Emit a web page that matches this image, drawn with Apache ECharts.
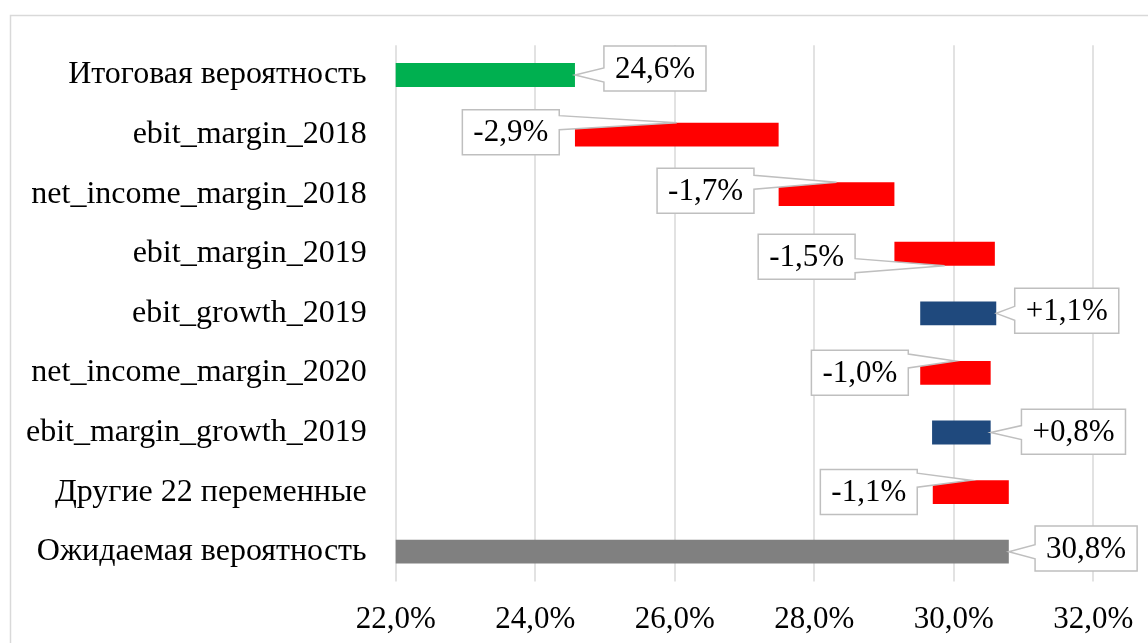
<!DOCTYPE html>
<html>
<head>
<meta charset="utf-8">
<script src="https://cdn.jsdelivr.net/npm/echarts@6/dist/echarts.min.js"></script>
<style>
  html, body { margin: 0; padding: 0; background: #fff; }
  #main { width: 1148px; height: 643px; }
</style>
</head>
<body>
<div id="main"></div>
<script>
// данные waterfall-диаграммы (сверху вниз)
const categories = [
  'Итоговая вероятность',
  'ebit_margin_2018',
  'net_income_margin_2018',
  'ebit_margin_2019',
  'ebit_growth_2019',
  'net_income_margin_2020',
  'ebit_margin_growth_2019',
  'Другие 22 переменные',
  'Ожидаемая вероятность'
];
const lows    = [22.0, 24.57, 27.49, 29.15, 29.52, 29.52, 29.69, 29.70, 22.0];
const highs   = [24.57, 27.49, 29.15, 30.59, 30.61, 30.53, 30.53, 30.79, 30.79];
const changes = [24.6, -2.9, -1.7, -1.5, 1.1, -1.0, 0.8, -1.1, 30.8];
const kinds   = ['total', 'neg', 'neg', 'neg', 'pos', 'neg', 'pos', 'neg', 'total'];
const xMin = 22, xMax = 32, xStep = 2;

const barColors = ['#00b050', '#ff0000', '#ff0000', '#ff0000', '#1f497d', '#ff0000', '#1f497d', '#ff0000', '#808080'];
// куда прикреплена выноска и смещение центра рамки от точки привязки
const calloutLayout = [
  ['end', 80, -6.5],
  ['top', -166, 9.5],
  ['top', -131, 8.5],
  ['bottom', -138, -9],
  ['end', 70.5, -2.5],
  ['top', -95.6, 11.8],
  ['end', 82.8, -0.8],
  ['top', -102, 11.8],
  ['end', 77.3, -3.2]
];

const FONT = '"Liberation Serif", "Times New Roman", serif';
const FS = 31;      // подписи значений и оси X
const FS_CAT = 32;  // названия категорий

const pct = v => v.toFixed(1).replace('.', ',') + '%';
const labelText = changes.map((v, i) => (kinds[i] === 'pos' ? '+' : '') + pct(v));

const measureCtx = document.createElement('canvas').getContext('2d');
measureCtx.font = FS + 'px ' + FONT;
const textWidth = t => measureCtx.measureText(t).width;

const calloutData = categories.map((c, i) =>
  [calloutLayout[i][0] === 'end' ? highs[i] : (lows[i] + highs[i]) / 2, i]);

const renderCallout = (params, api) => {
  const i = params.dataIndex;
  const p = api.coord([api.value(0), api.value(1)]);
  const half = api.size([0, 1])[1] * 0.4 / 2;
  const [kind, dx, dy] = calloutLayout[i];
  const ax = p[0];
  const ay = p[1] + (kind === 'top' ? -half : kind === 'bottom' ? half : 0);
  const text = labelText[i];
  const w = textWidth(text) + 22, h = 45;
  const cx = ax + dx, cy = ay + dy;
  const x0 = cx - w / 2, y0 = cy - h / 2, x1 = x0 + w, y1 = y0 + h;
  const hb = 7;
  const bc = Math.min(Math.max(ay, y0 + hb), y1 - hb);
  const pts = [[x0, y0], [x1, y0]];
  if (ax > x1) pts.push([x1, bc - hb], [ax, ay], [x1, bc + hb]);
  pts.push([x1, y1], [x0, y1]);
  if (ax < x0) pts.push([x0, bc + hb], [ax, ay], [x0, bc - hb]);
  return {
    type: 'group',
    children: [
      { type: 'polygon', shape: { points: pts },
        style: { fill: '#fff', stroke: '#bfbfbf', lineWidth: 1.5 } },
      { type: 'text', x: cx, y: cy + 1,
        style: { text: text, fill: '#000', font: FS + 'px ' + FONT,
                 align: 'center', verticalAlign: 'middle' } }
    ]
  };
};

const myChart = echarts.init(document.getElementById('main'));

const option = {
  animation: false,
  textStyle: { fontFamily: FONT },
  graphic: [{
    type: 'rect', z: -10, silent: true,
    shape: { x: 10.5, y: 15.5, width: 1200, height: 700 },
    style: { fill: 'none', stroke: '#d9d9d9', lineWidth: 1.5 }
  }],
  grid: { left: 395.7, right: 54.8, top: 45.2, bottom: 61.5, containLabel: false },
  xAxis: {
    type: 'value',
    min: xMin, max: xMax, interval: xStep,
    axisLine: { show: false },
    axisTick: { show: false },
    axisLabel: { formatter: v => pct(v), color: '#000', fontSize: FS, fontFamily: FONT, margin: 23 },
    splitLine: { show: true, lineStyle: { color: '#d9d9d9', width: 1.5 } }
  },
  yAxis: {
    type: 'category',
    inverse: true,
    data: categories,
    axisLine: { show: false },
    axisTick: { show: false },
    axisLabel: { color: '#000', fontSize: FS_CAT, fontFamily: FONT, margin: 29 }
  },
  series: [
    {
      name: 'base', type: 'bar', stack: 'wf',
      barCategoryGap: '60%',
      itemStyle: { color: 'transparent' },
      silent: true,
      data: lows
    },
    {
      name: 'delta', type: 'bar', stack: 'wf',
      barCategoryGap: '60%',
      data: highs.map((h, i) => ({ value: h - lows[i], itemStyle: { color: barColors[i] } }))
    },
    {
      name: 'callouts', type: 'custom',
      z: 5, clip: false, silent: true,
      renderItem: renderCallout,
      encode: { x: 0, y: 1 },
      data: calloutData
    }
  ]
};

myChart.setOption(option);
</script>
</body>
</html>
